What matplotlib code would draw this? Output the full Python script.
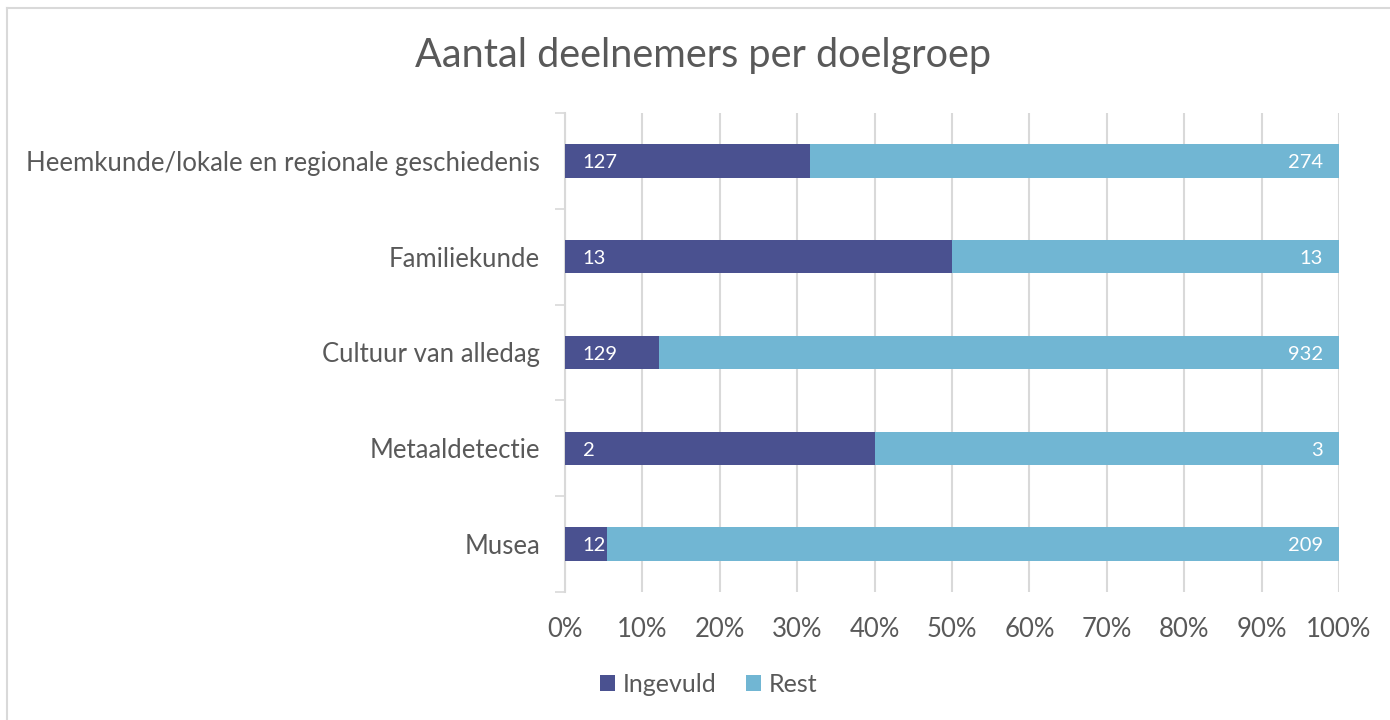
import matplotlib.pyplot as plt
from matplotlib.lines import Line2D
import numpy as np

plt.rcParams["font.family"] = ["Lato", "DejaVu Sans"]

# categories top to bottom
categories = ["Heemkunde/lokale en regionale geschiedenis", "Familiekunde",
              "Cultuur van alledag", "Metaaldetectie", "Musea"]
ingevuld = [127, 13, 129, 2, 12]
rest = [274, 13, 932, 3, 209]
xticks_labels = ["0%", "10%", "20%", "30%", "40%", "50%", "60%", "70%", "80%", "90%", "100%"]

dark = "#4a5190"
light = "#71b6d3"
grey_txt = "#595959"
grid_col = "#d9d9d9"

fig = plt.figure(figsize=(13.9, 7.2), dpi=100)
ax = fig.add_axes([0.4065, 0.1778, 0.5568, 0.6653])

ing = np.array(ingevuld, dtype=float)
rst = np.array(rest, dtype=float)
tot = ing + rst
p1 = ing / tot * 100
p2 = rst / tot * 100
y = np.arange(len(categories))

ax.barh(y, p1, height=0.35, color=dark, label="Ingevuld", zorder=3)
ax.barh(y, p2, left=p1, height=0.35, color=light, label="Rest", zorder=3)

for i in range(len(categories)):
    ax.text(2.3, y[i] + 0.02, str(ingevuld[i]), color="white", fontsize=14.5,
            va="center", ha="left", zorder=4)
    ax.text(97.9, y[i] + 0.02, str(rest[i]), color="white", fontsize=14.5,
            va="center", ha="right", zorder=4)

ax.set_xlim(0, 100)
ax.set_ylim(len(categories) - 0.5, -0.5)
ax.set_xticks(np.arange(0, 101, 10))
ax.set_xticklabels(xticks_labels, fontsize=18.5, color=grey_txt)
ax.tick_params(axis="x", length=0, pad=18)
ax.xaxis.grid(True, color=grid_col, linewidth=1.5, zorder=0)

ax.set_yticks(y)
ax.set_yticklabels(categories, fontsize=18.5, color=grey_txt)
ax.tick_params(axis="y", which="major", length=0, pad=18)
ax.set_yticks(np.arange(-0.5, len(categories)), minor=True)
ax.tick_params(axis="y", which="minor", length=7, width=1.2, color=grid_col, direction="out")

for s in ["top", "right", "bottom"]:
    ax.spines[s].set_visible(False)
ax.spines["left"].set_color(grid_col)
ax.spines["left"].set_linewidth(1.5)

fig.text(0.506, 0.923, "Aantal deelnemers per doelgroep", fontsize=28.5,
         color=grey_txt, ha="center", va="center")

handles, labels = ax.get_legend_handles_labels()
fig.legend(handles, labels, loc="center", bbox_to_anchor=(0.51, 0.049), ncol=2,
           frameon=False, fontsize=18, labelcolor=grey_txt, handlelength=0.6,
           handleheight=0.6, handletextpad=0.3, columnspacing=1.2)

# outer chart border
fig.add_artist(Line2D([7 / 1390, 7 / 1390], [1 - 8 / 720, 0], color=grid_col, lw=1.5))
fig.add_artist(Line2D([7 / 1390, 1], [1 - 8 / 720, 1 - 8 / 720], color=grid_col, lw=1.5))

fig.savefig("out.png", dpi=100)
